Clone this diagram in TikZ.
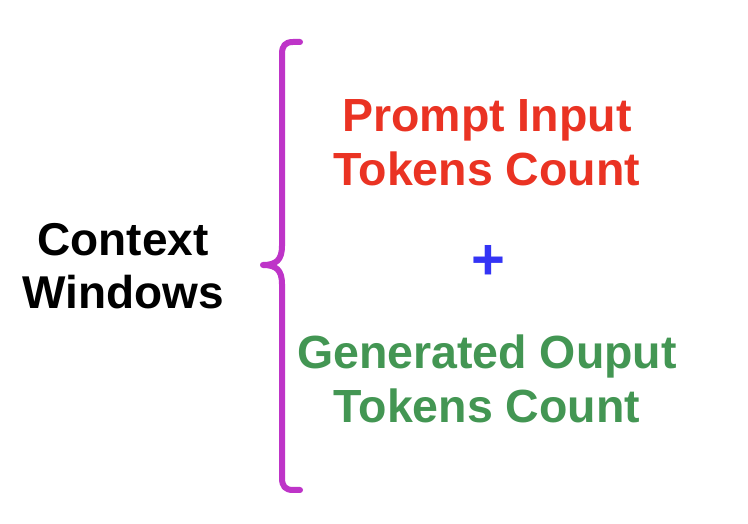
\documentclass[tikz,border=0pt]{standalone}
\usepackage{fontspec}
\setmainfont{Liberation Sans}
\usepackage{tikz}

\definecolor{braceColor}{RGB}{190,52,200}
\definecolor{promptColor}{RGB}{234,51,35}
\definecolor{outputColor}{RGB}{67,150,83}
\definecolor{plusColor}{RGB}{52,52,245}

\tikzset{
  label text/.style={align=center,inner sep=0pt,outer sep=0pt,
    font=\fontsize{46.5}{54}\selectfont\bfseries},
}

\begin{document}
\begin{tikzpicture}[x=1pt,y=1pt]
\definecolor{fillColor}{RGB}{255,255,255}
\path[use as bounding box,fill=fillColor] (0,0) rectangle (748,524);

% curly brace
\path[draw=braceColor,line width= 6pt,line join=round,line cap=round] (300,482) --
	(293,482) .. controls (285,482) and (282,478) .. (282,470) --
	(282,278) .. controls (282,264) and (276,259) .. (263,259) ..
	controls (276,259) and (282,254) .. (282,240) --
	(282,46) .. controls (282,38) and (285,34) .. (293,34) --
	(300,34);

% texts
\node[label text,text=black,font=\fontsize{46}{53}\selectfont\bfseries] (context) at (123,257.5) {Context\\Windows};
\node[label text,text=promptColor] (prompt) at (487,381) {Prompt Input\\Tokens Count};
\node[label text,text=plusColor,font=\fontsize{58}{58}\selectfont\bfseries] (plus) at (488.5,261) {+};
\node[label text,text=outputColor] (output) at (487,145) {Generated Ouput\\Tokens Count};
\end{tikzpicture}
\end{document}
